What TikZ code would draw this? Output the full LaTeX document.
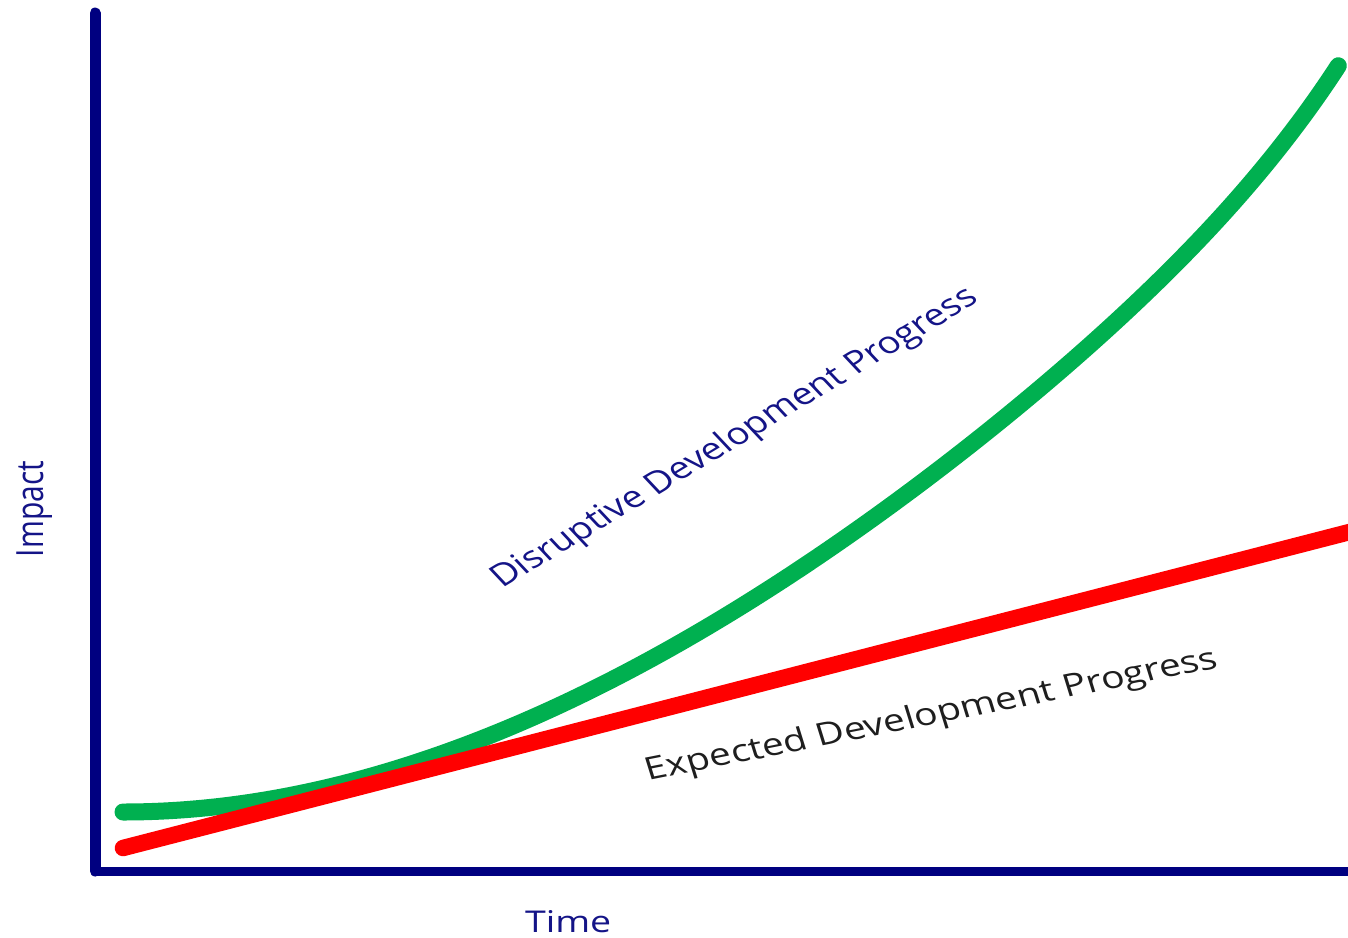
\documentclass[tikz,border=0pt]{standalone}
\usepackage{fontspec}
\setmainfont{Open Sans}
\definecolor{axisnavy}{RGB}{0,0,128}
\definecolor{txtnavy}{RGB}{20,20,135}
\definecolor{disgreen}{RGB}{0,176,80}
\definecolor{expred}{RGB}{255,0,0}
\definecolor{txtdark}{RGB}{30,30,30}
\begin{document}
\begin{tikzpicture}[x=1pt,y=-1pt,
  axisline/.style={draw=axisnavy, line cap=round, line join=round},
  curveline/.style={line cap=round, line join=round},
  lbl/.style={inner sep=0pt, font=\fontsize{30}{36}\selectfont, transform shape}]
\useasboundingbox (0,0) rectangle (1348,937);
\clip (0,0) rectangle (1348,937);
% axes
\coordinate (ytop) at (95,13);
\coordinate (origin) at (95,871);
\coordinate (xend) at (1365,871);
\draw[axisline, line width=11pt] (ytop) -- (origin);
\draw[axisline, line width=9pt] (origin) -- (xend);
% disruptive curve
\draw[curveline, draw=disgreen, line width=17pt] plot[domain=0:1.217, samples=140, smooth]
  ({123+1000*\x}, {812 - 613*\x*\x + 121.5*\x*\x*\x - 60*(\x/1.217)^12});
% expected line
\coordinate (rs) at (123,848);
\coordinate (re) at (1365,528);
\draw[curveline, draw=expred, line width=16.5pt] (rs) -- (re);
% label anchors
\coordinate (dmid) at (741,445);
\coordinate (emid) at (934,724);
\coordinate (imid) at (43,509);
\coordinate (tmid) at (568,932);
\begin{scope}[xscale=1.25]
\node[lbl, text=txtnavy, rotate=37, anchor=base, font=\fontsize{30.7}{36}\selectfont] (dis) at (dmid) {Disruptive Development Progress};
\node[lbl, text=txtdark, rotate=13.9, anchor=base, font=\fontsize{31.2}{36}\selectfont] (exp) at (emid) {Expected Development Progress};
\node[lbl, text=txtnavy, rotate=90, anchor=base] (imp) at (imid) {Impact};
\node[lbl, text=txtnavy, anchor=base] (tim) at (tmid) {Time};
\end{scope}
\end{tikzpicture}
\end{document}
